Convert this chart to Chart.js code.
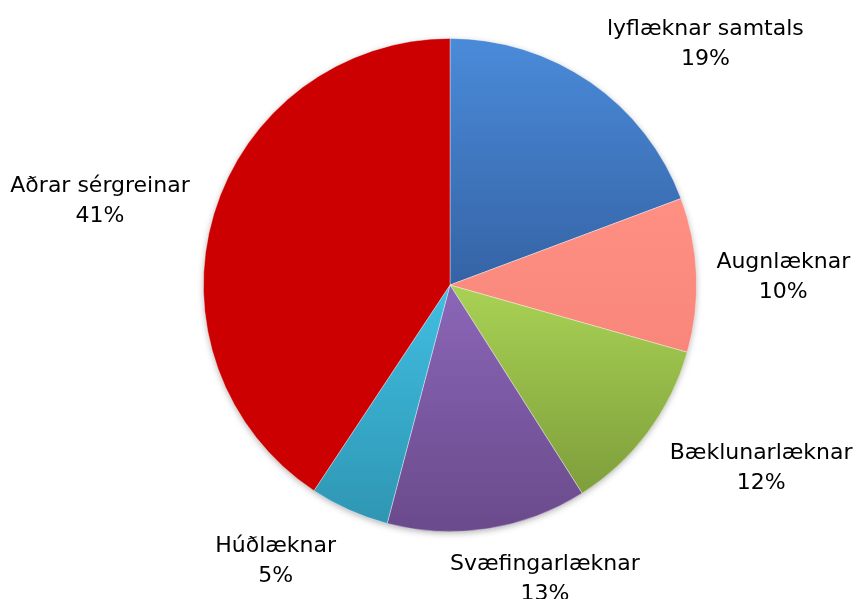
<!DOCTYPE html>
<html lang="is">

<head>
    <meta charset="UTF-8">
    <meta name="viewport" content="width=device-width, initial-scale=1.0">
    <script src="https://cdn.jsdelivr.net/npm/chart.js"></script>
    <title>Sérgreinar lækna</title>
    <style>
        html, body { margin: 0; padding: 0; background: #fff; }
        #wrap { width: 853px; height: 599px; }
    </style>
</head>

<body>
    <div id="wrap">
        <canvas id="grafica"></canvas>
    </div>
    <script>
        // gögn
        const flokkar = ['lyflæknar samtals', 'Augnlæknar', 'Bæklunarlæknar', 'Svæfingarlæknar', 'Húðlæknar', 'Aðrar sérgreinar'];
        const hlutfall = [19.3, 10.1, 11.6, 13.1, 5.2, 40.7];

        // litir (efst / neðst í sneið)
        const litirTop = ['#4a8bd9', '#ff8f83', '#a9d254', '#8b66b8', '#40bee2', '#cc0000'];
        const litirBot = ['#3563a5', '#f8867b', '#7e9e3b', '#6a4a8b', '#2f96b3', '#cc0000'];

        // hliðrun merkja (dx, dy)
        const merkjaHlidrun = [[5, 5], [0, 3], [6, -3], [54, 4], [-5, 6], [-5, -7]];

        const total = hlutfall.reduce((a, b) => a + b, 0);

        function sneidLitur(context) {
            const i = context.dataIndex;
            const area = context.chart.chartArea;
            if (!area) return litirTop[i];
            const cx = (area.left + area.right) / 2;
            const cy = (area.top + area.bottom) / 2;
            const r = Math.min(area.right - area.left, area.bottom - area.top) / 2;
            let start = 0;
            for (let k = 0; k < i; k++) start += hlutfall[k] / total * Math.PI * 2;
            const end = start + hlutfall[i] / total * Math.PI * 2;
            let ymin = cy, ymax = cy;
            for (let s = 0; s <= 40; s++) {
                const a = start + (end - start) * s / 40;
                const y = cy - r * Math.cos(a);
                ymin = Math.min(ymin, y);
                ymax = Math.max(ymax, y);
            }
            const g = context.chart.ctx.createLinearGradient(0, ymin, 0, ymax);
            g.addColorStop(0, litirTop[i]);
            g.addColorStop(1, litirBot[i]);
            return g;
        }

        const skuggi = {
            id: 'skuggi',
            beforeDatasetsDraw(chart) {
                const arc = chart.getDatasetMeta(0).data[0];
                if (!arc) return;
                const ctx = chart.ctx;
                ctx.save();
                ctx.shadowColor = 'rgba(0,0,0,0.35)';
                ctx.shadowBlur = 7;
                ctx.shadowOffsetY = 2;
                ctx.fillStyle = '#ffffff';
                ctx.beginPath();
                ctx.arc(arc.x, arc.y, arc.outerRadius - 1, 0, Math.PI * 2);
                ctx.fill();
                ctx.restore();
            }
        };

        const merki = {
            id: 'merki',
            afterDatasetsDraw(chart) {
                const ctx = chart.ctx;
                const lh = 30;
                const half = 12;
                ctx.save();
                ctx.font = '22px "DejaVu Sans", sans-serif';
                ctx.fillStyle = '#000000';
                ctx.textBaseline = 'middle';
                chart.getDatasetMeta(0).data.forEach((arc, i) => {
                    const mid = (arc.startAngle + arc.endAngle) / 2;
                    const ax = arc.x + (arc.outerRadius + 20) * Math.cos(mid);
                    const ay = arc.y + (arc.outerRadius + 20) * Math.sin(mid);
                    const l1 = flokkar[i];
                    const l2 = Math.round(hlutfall[i] / total * 100) + '%';
                    const w = Math.max(ctx.measureText(l1).width, ctx.measureText(l2).width);
                    const sx = Math.cos(mid), sy = Math.sin(mid);
                    let cxT;
                    if (sx > 0.3) cxT = ax + w / 2;
                    else if (sx < -0.3) cxT = ax - w / 2;
                    else cxT = ax;
                    let y1;
                    if (sy < -0.3) y1 = ay - half - lh;
                    else if (sy > 0.3) y1 = ay + half;
                    else y1 = ay - lh / 2;
                    cxT += merkjaHlidrun[i][0];
                    y1 += merkjaHlidrun[i][1];
                    ctx.textAlign = 'center';
                    ctx.fillText(l1, cxT, y1);
                    ctx.fillText(l2, cxT, y1 + lh);
                });
                ctx.restore();
            }
        };

        const ctx = document.getElementById('grafica').getContext('2d');
        new Chart(ctx, {
            type: 'pie',
            data: {
                labels: flokkar,
                datasets: [{
                    data: hlutfall,
                    backgroundColor: sneidLitur,
                    borderColor: 'rgba(255,255,255,0.45)',
                    borderWidth: 0.8
                }]
            },
            options: {
                responsive: true,
                maintainAspectRatio: false,
                animation: false,
                layout: {
                    padding: { top: 38, bottom: 67, left: 203, right: 156 }
                },
                plugins: {
                    legend: { display: false },
                    tooltip: { enabled: false }
                }
            },
            plugins: [skuggi, merki]
        });
    </script>
</body>

</html>
